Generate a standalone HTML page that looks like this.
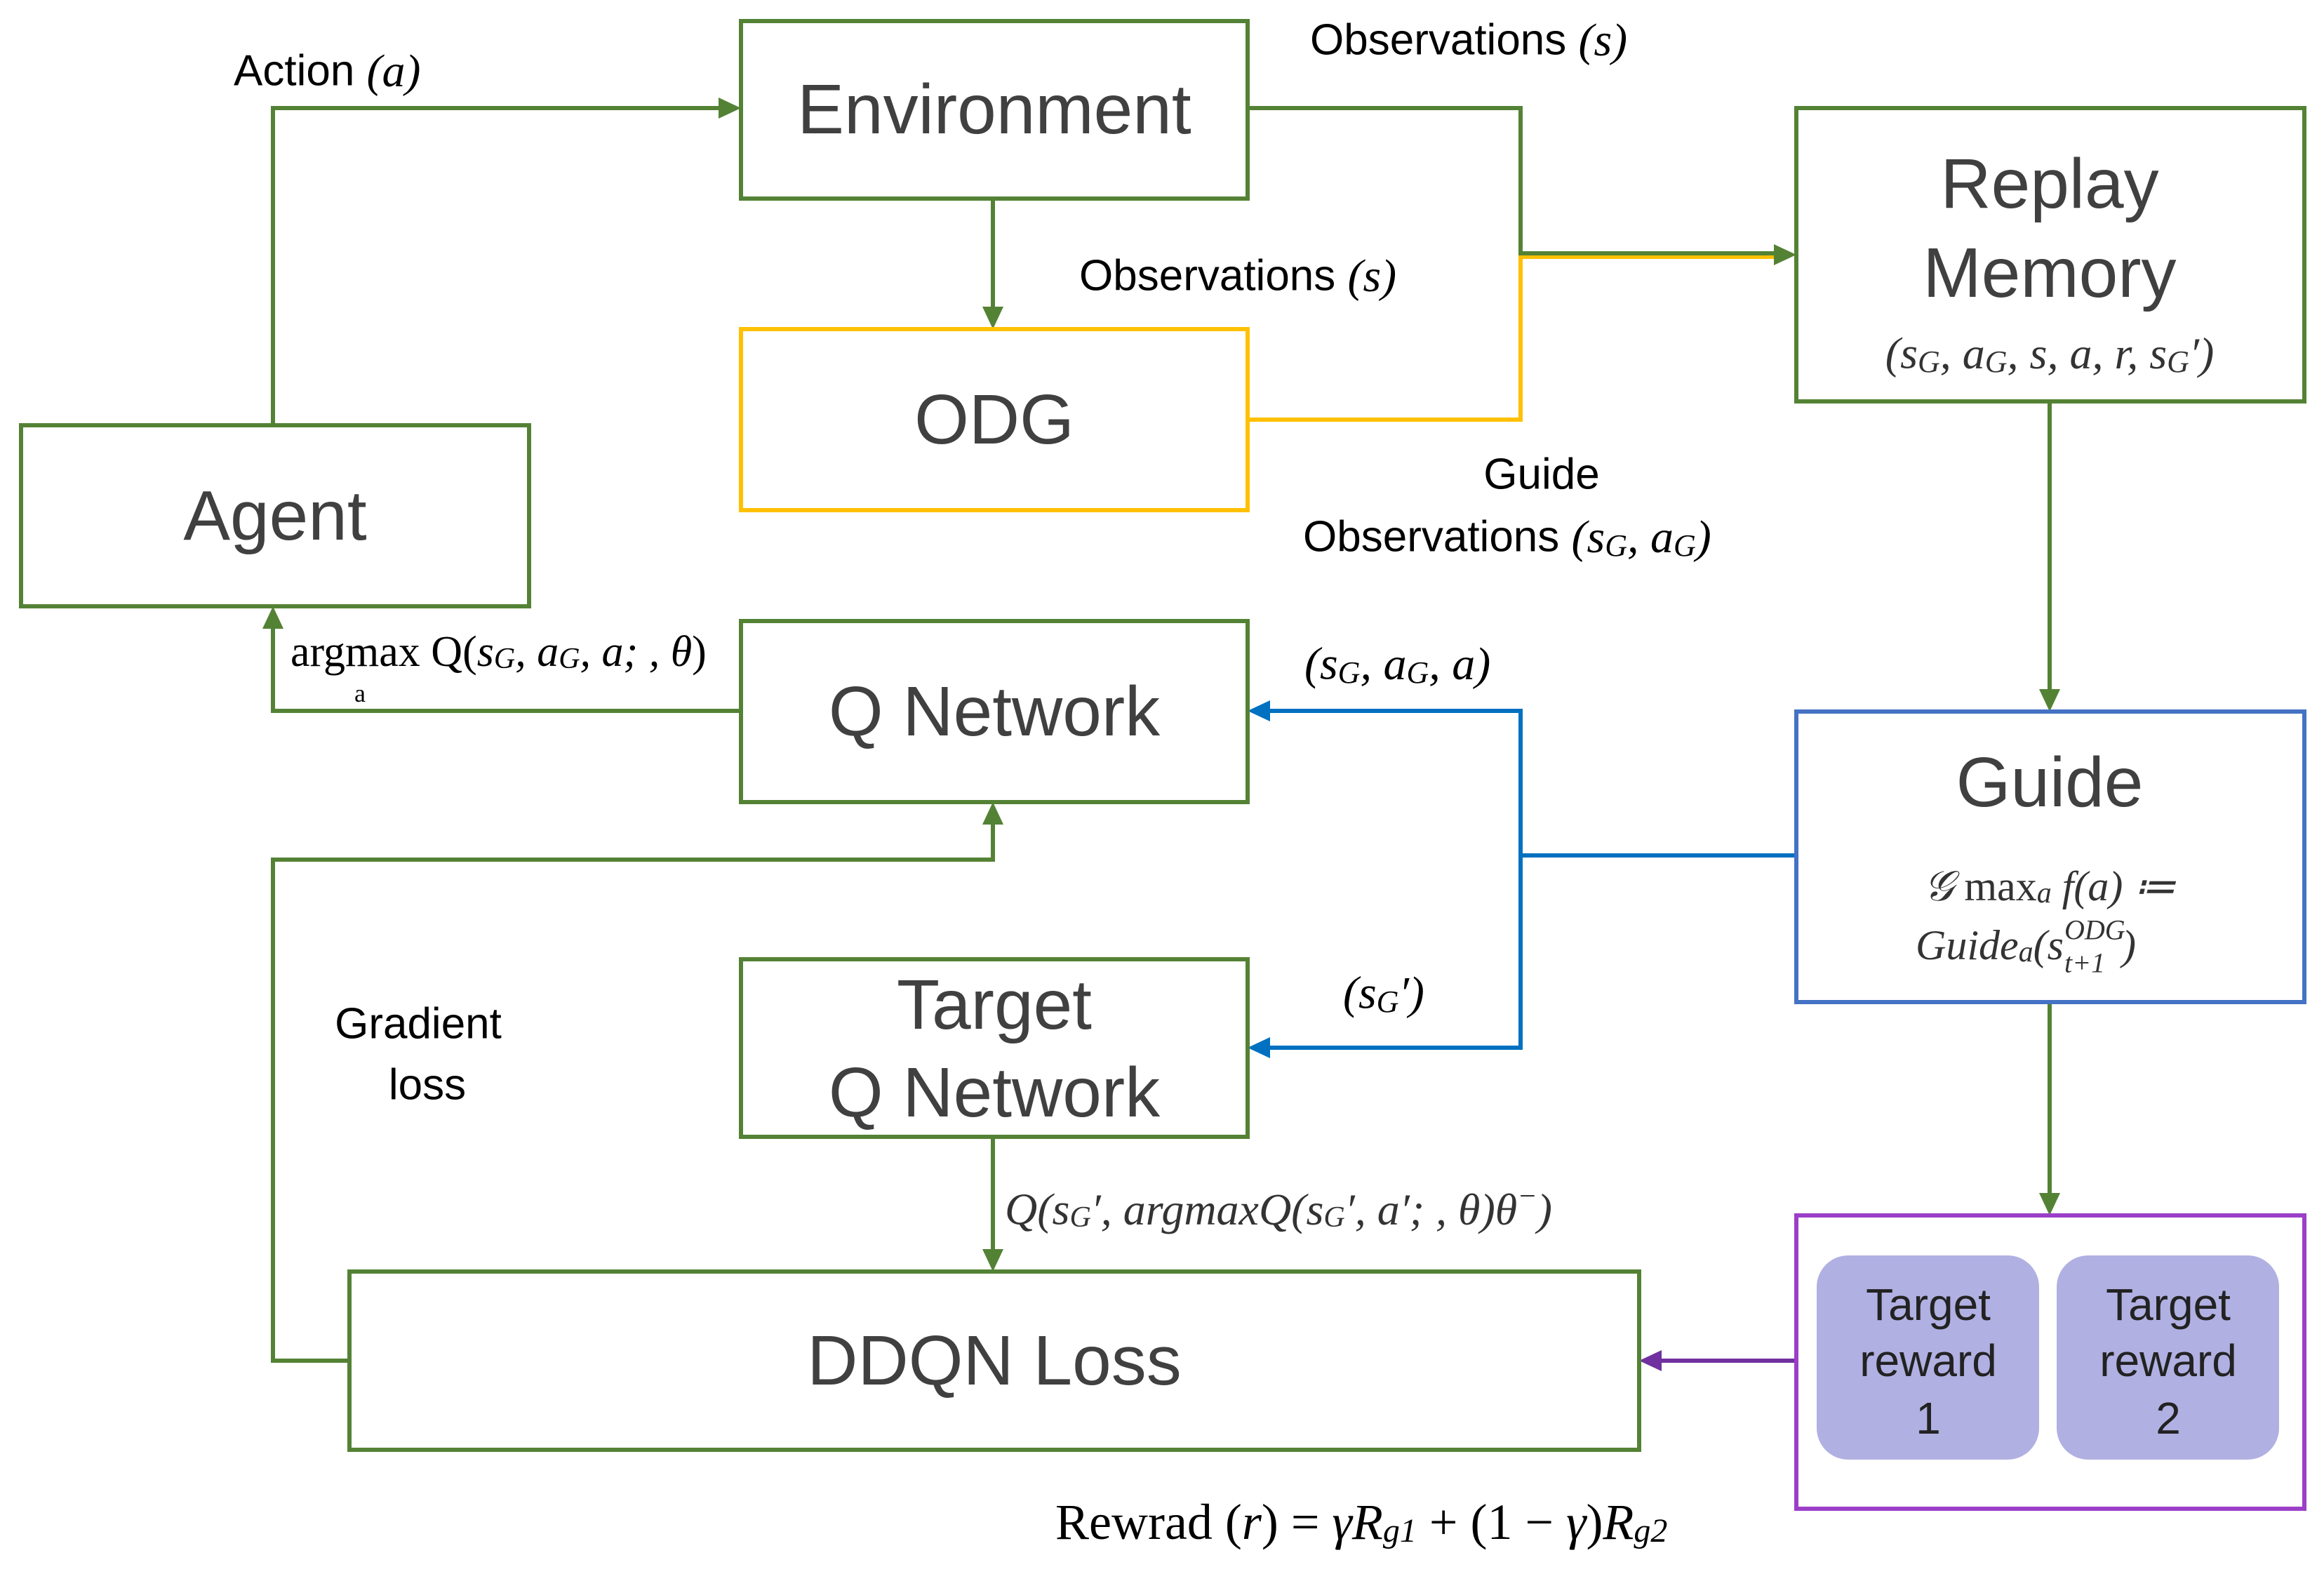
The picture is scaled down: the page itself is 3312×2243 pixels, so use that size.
<!DOCTYPE html>
<html><head><meta charset="utf-8"><style>html,body{margin:0;padding:0;background:#fff}svg{display:block}</style></head><body>
<svg width="3312" height="2243" viewBox="0 0 3312 2243" xmlns="http://www.w3.org/2000/svg">
<style>
.gl{fill:none;stroke:#548235;stroke-width:6}
.bl{fill:none;stroke:#0070C0;stroke-width:6}
.box{fill:#fff;stroke-width:6}
.big{font-family:"Liberation Sans",sans-serif;font-size:100px;fill:#404040;text-anchor:middle;dominant-baseline:central}
.lab{font-family:"Liberation Sans",sans-serif;font-size:62px;fill:#000;dominant-baseline:central}
.m{font-family:"Liberation Serif",serif;font-size:64px;fill:#000;dominant-baseline:central}
.mi{font-family:"Liberation Serif",serif;font-style:italic;font-size:64px;fill:#333;dominant-baseline:central}
</style>
<polyline class="gl" points="389,606 389,154 1026,154"/>
<path d="M1056,154 L1024,139 L1024,169z" fill="#548235"/>
<line class="gl" x1="1415" y1="283" x2="1415" y2="440"/>
<path d="M1415,469 L1400,437 L1430,437z" fill="#548235"/>
<polyline points="1778,598 2167,598 2167,366 2530,366" fill="none" stroke="#FFC000" stroke-width="6"/>
<polyline class="gl" points="1778,154 2167,154 2167,361 2530,361"/>
<path d="M2560,363 L2528,348 L2528,378z" fill="#548235"/>
<line class="gl" x1="2921" y1="572" x2="2921" y2="984"/>
<path d="M2921,1014 L2906,982 L2936,982z" fill="#548235"/>
<polyline class="bl" points="2560,1219 2167,1219"/>
<polyline class="bl" points="1808,1013 2167,1013 2167,1493 1808,1493"/>
<path d="M1778,1013 L1810,998 L1810,1028z M1778,1493 L1810,1478 L1810,1508z" fill="#0070C0"/>
<polyline class="gl" points="1056,1013 389,1013 389,894"/>
<path d="M389,864 L374,896 L404,896z" fill="#548235"/>
<polyline class="gl" points="498,1939 389,1939 389,1225 1415,1225 1415,1173"/>
<path d="M1415,1143 L1400,1175 L1430,1175z" fill="#548235"/>
<line class="gl" x1="1415" y1="1620" x2="1415" y2="1782"/>
<path d="M1415,1812 L1400,1780 L1430,1780z" fill="#548235"/>
<line class="gl" x1="2921" y1="1428" x2="2921" y2="1702"/>
<path d="M2921,1732 L2906,1700 L2936,1700z" fill="#548235"/>
<line x1="2560" y1="1939" x2="2366" y2="1939" stroke="#7030A0" stroke-width="6"/>
<path d="M2336,1939 L2368,1924 L2368,1954z" fill="#7030A0"/>
<rect class="box" x="1056" y="30" width="722" height="253" stroke="#548235"/>
<rect class="box" x="1056" y="469" width="722" height="258" stroke="#FFC000"/>
<rect class="box" x="30" y="606" width="724" height="258" stroke="#548235"/>
<rect class="box" x="1056" y="885" width="722" height="258" stroke="#548235"/>
<rect class="box" x="1056" y="1367" width="722" height="253" stroke="#548235"/>
<rect class="box" x="498" y="1812" width="1838" height="254" stroke="#548235"/>
<rect class="box" x="2560" y="154" width="724" height="418" stroke="#548235"/>
<rect class="box" x="2560" y="1014" width="724" height="414" stroke="#4472C4"/>
<rect class="box" x="2560" y="1732" width="724" height="418" stroke="#9B3FC8"/>
<rect x="2589" y="1789" width="317" height="291" rx="45" fill="#B1B0E2"/>
<rect x="2931" y="1789" width="317" height="291" rx="45" fill="#B1B0E2"/>
<text class="big" x="1417" y="156">Environment</text>
<text class="big" x="1417" y="598">ODG</text>
<text class="big" x="392" y="735">Agent</text>
<text class="big" x="1417" y="1014">Q Network</text>
<text class="big" x="1417" y="1432">Target</text>
<text class="big" x="1417" y="1557">Q Network</text>
<text class="big" x="1417" y="1939">DDQN Loss</text>
<text class="big" x="2921" y="262">Replay</text>
<text class="big" x="2921" y="389">Memory</text>
<text class="mi" x="2921" y="503" text-anchor="middle" style="font-size:64px">(s<tspan font-size="44" dy="12">G</tspan><tspan dy="-12">, a</tspan><tspan font-size="44" dy="12">G</tspan><tspan dy="-12">, s, a, r, s</tspan><tspan font-size="44" dy="12">G</tspan><tspan dy="-12">′)</tspan></text>
<text class="big" x="2921" y="1115">Guide</text>
<text class="mi" x="2921" y="1263" text-anchor="middle" style="font-size:60px">𝒢 <tspan font-style="normal">max</tspan><tspan font-size="42" dy="10">a</tspan><tspan dy="-10"> f(a) ≔</tspan></text>
<text class="mi" x="2730" y="1347" style="font-size:60px">Guide<tspan font-size="42" dy="10">a</tspan><tspan dy="-10">(s</tspan></text>
<text class="mi" x="2942" y="1325" style="font-size:40px">ODG</text>
<text class="mi" x="2942" y="1372" style="font-size:40px">t+1</text>
<text class="mi" x="3024" y="1347" style="font-size:60px">)</text>
<text class="big" style="font-size:64px;fill:#222" x="2748" y="1859">Target</text>
<text class="big" style="font-size:64px;fill:#222" x="2748" y="1939">reward</text>
<text class="big" style="font-size:64px;fill:#222" x="2748" y="2021">1</text>
<text class="big" style="font-size:64px;fill:#222" x="3090" y="1859">Target</text>
<text class="big" style="font-size:64px;fill:#222" x="3090" y="1939">reward</text>
<text class="big" style="font-size:64px;fill:#222" x="3090" y="2021">2</text>
<text class="lab" x="333" y="101">Action <tspan font-family="Liberation Serif" font-style="italic" font-size="66">(a)</tspan></text>
<text class="lab" x="1867" y="57">Observations <tspan font-family="Liberation Serif" font-style="italic" font-size="66">(s)</tspan></text>
<text class="lab" x="1538" y="393">Observations <tspan font-family="Liberation Serif" font-style="italic" font-size="66">(s)</tspan></text>
<text class="lab" x="2197" y="676" text-anchor="middle">Guide</text>
<text class="lab" x="1857" y="765">Observations <tspan font-family="Liberation Serif" font-style="italic" font-size="66">(s</tspan><tspan font-family="Liberation Serif" font-style="italic" font-size="44" dy="12">G</tspan><tspan font-family="Liberation Serif" font-style="italic" font-size="66" dy="-12">, a</tspan><tspan font-family="Liberation Serif" font-style="italic" font-size="44" dy="12">G</tspan><tspan font-family="Liberation Serif" font-style="italic" font-size="66" dy="-12">)</tspan></text>
<text class="m" x="414" y="929" style="font-size:62px">argmax Q(<tspan font-style="italic">s</tspan><tspan font-style="italic" font-size="42" dy="10">G</tspan><tspan font-style="italic" dy="-10">, a</tspan><tspan font-style="italic" font-size="42" dy="10">G</tspan><tspan font-style="italic" dy="-10">, a; , θ</tspan>)</text>
<text class="m" x="505" y="988" style="font-size:36px">a</text>
<text class="mi" x="1859" y="946" style="fill:#000;font-size:66px">(s<tspan font-size="44" dy="12">G</tspan><tspan dy="-12">, a</tspan><tspan font-size="44" dy="12">G</tspan><tspan dy="-12">, a)</tspan></text>
<text class="mi" x="1914" y="1415" style="fill:#000;font-size:66px">(s<tspan font-size="44" dy="12">G</tspan><tspan dy="-12">′)</tspan></text>
<text class="lab" x="596" y="1459" text-anchor="middle">Gradient</text>
<text class="lab" x="609" y="1546" text-anchor="middle">loss</text>
<text class="mi" x="1432" y="1723" style="font-size:64px">Q(s<tspan font-size="42" dy="12">G</tspan><tspan dy="-12">′, argmaxQ(s</tspan><tspan font-size="42" dy="12">G</tspan><tspan dy="-12">′, a′; , θ)θ</tspan><tspan font-size="42" dy="-18">−</tspan><tspan dy="18">)</tspan></text>
<text class="m" x="1504" y="2169" style="font-size:72px">Rewrad (<tspan font-style="italic">r</tspan>) =  <tspan font-style="italic">γR</tspan><tspan font-style="italic" font-size="48" dy="12">g1</tspan><tspan dy="-12"> + (1 − </tspan><tspan font-style="italic">γ</tspan>)<tspan font-style="italic">R</tspan><tspan font-style="italic" font-size="48" dy="12">g2</tspan></text>
</svg>
</body></html>
